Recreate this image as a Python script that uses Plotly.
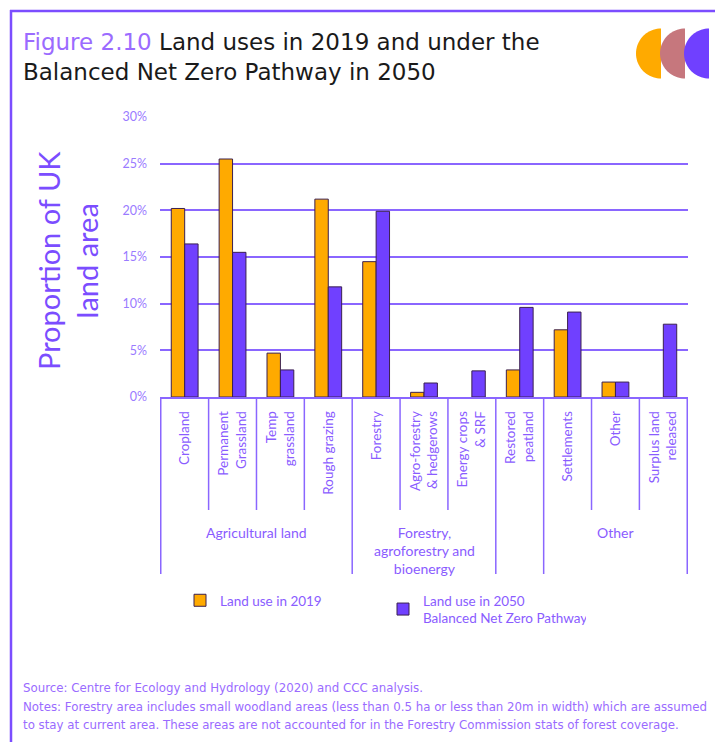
import plotly.graph_objects as go

categories = ["Cropland", "Permanent<br>Grassland", "Temp<br>grassland", "Rough grazing",
              "Forestry", "Agro-forestry<br>& hedgerows", "Energy crops<br>& SRF",
              "Restored<br>peatland", "Settlements", "Other", "Surplus land<br>released"]
land_2019 = [20.2, 25.5, 4.7, 21.2, 14.5, 0.5, 0.0, 2.9, 7.2, 1.6, 0.0]
land_2050 = [16.4, 15.5, 2.9, 11.8, 19.9, 1.5, 2.8, 9.6, 9.1, 1.6, 7.8]
groups = [("Agricultural land", 0, 3), ("Forestry,<br>agroforestry and<br>bioenergy", 4, 6),
          ("", 7, 7), ("Other", 8, 10)]
yticks = [0, 5, 10, 15, 20, 25, 30]

PURPLE = "#7040FF"
ORANGE = "#FFAA00"
TXT = "#8A5CFF"
FONT = "Lato"

def outline_widths(vals):
    return [0 if v == 0 else 1 for v in vals]

fig = go.Figure()
fig.add_trace(go.Bar(x=categories, y=land_2019, name="Land use in 2019",
                     marker=dict(color=ORANGE, line=dict(color="#3b2050", width=outline_widths(land_2019)))))
fig.add_trace(go.Bar(x=categories, y=land_2050, name="Land use in 2050<br>Balanced Net Zero Pathway",
                     marker=dict(color=PURPLE, line=dict(color="#3b2050", width=outline_widths(land_2050)))))

W, H = 715, 742
L, R, T, B = 160, 27, 117, 345
pw, ph = W - L - R, H - T - B

def px_x(p):
    return (p - L) / pw

def px_y(p):
    return (H - B - p) / ph

fig.update_layout(
    width=W, height=H,
    margin=dict(l=L, r=R, t=T, b=B),
    paper_bgcolor="white", plot_bgcolor="white",
    font=dict(family=FONT, color=TXT),
    bargap=0.44, bargroupgap=0,
    showlegend=True,
    legend=dict(orientation="h", x=px_x(180), y=px_y(585), xanchor="left", yanchor="top",
                font=dict(size=13.5, color=TXT), entrywidth=158, entrywidthmode="pixels",
                traceorder="normal", itemclick=False, bgcolor="rgba(0,0,0,0)"),
)

fig.update_yaxes(range=[0, 30], tickvals=yticks, ticktext=[f"{v}%" for v in yticks],
                 showgrid=True, gridcolor="#8a66ff", gridwidth=1.5, zeroline=False,
                 showline=False, tickfont=dict(size=12.5, color="#9A7BFF"),
                 ticklabelstandoff=12, fixedrange=True)
fig.update_xaxes(tickangle=-90, tickfont=dict(size=13.5, color=TXT), showline=True,
                 linecolor="#8a66ff", linewidth=1.5, ticklabelstandoff=7, fixedrange=True)

shapes = []
long_idx = set()
for name, a, b in groups:
    long_idx.add(a - 0.5)
    long_idx.add(b + 0.5)
for i in range(len(categories) + 1):
    xpos = i - 0.5
    yend = 574 if xpos in long_idx else 510
    shapes.append(dict(type="line", xref="x", yref="paper", x0=xpos, x1=xpos,
                       y0=0, y1=px_y(yend), line=dict(color="#8a66ff", width=1.5)))
# frame
shapes.append(dict(type="line", xref="paper", yref="paper", x0=px_x(10), x1=px_x(W + 5),
                   y0=px_y(11), y1=px_y(11), line=dict(color="#7B4DFF", width=2.5)))
shapes.append(dict(type="line", xref="paper", yref="paper", x0=px_x(11), x1=px_x(11),
                   y0=px_y(10), y1=px_y(H + 5), line=dict(color="#7B4DFF", width=2.5)))

def half_disc(xflat, yc, r, color):
    import math
    pts = []
    n = 40
    for k in range(n + 1):
        ang = math.pi / 2 + math.pi * k / n
        pts.append((xflat + r * math.cos(ang), yc - r * math.sin(ang)))
    path = "M " + " L ".join(f"{px_x(x):.5f},{px_y(y):.5f}" for x, y in pts) + " Z"
    return dict(type="path", xref="paper", yref="paper", path=path,
                fillcolor=color, line=dict(width=0))

shapes.append(half_disc(661, 53.5, 25, "#FFAA00"))
shapes.append(half_disc(685, 53.5, 25, "#C6777D"))
shapes.append(half_disc(709, 53.5, 25, "#7040FF"))
fig.update_layout(shapes=shapes)

ann = []
ann.append(dict(x=px_x(21), y=px_y(57), xref="paper", yref="paper", xanchor="left", yanchor="middle",
                align="left",
                text="<span style='color:#9B6BFF'>Figure 2.10</span> Land uses in 2019 and under the<br>Balanced Net Zero Pathway in 2050",
                showarrow=False, font=dict(family="DejaVu Sans", size=23, color="#1a1a1a")))
for name, a, b in groups:
    if name:
        ann.append(dict(x=(a + b) / 2, xref="x", y=px_y(522), yref="paper",
                        text=name, showarrow=False, yanchor="top", xanchor="center",
                        font=dict(size=14, color=TXT)))
ann.append(dict(x=px_x(67), y=px_y(261), xref="paper", yref="paper", textangle=-90,
                xanchor="center", yanchor="middle",
                text="Proportion of UK<br>land area", showarrow=False,
                font=dict(size=29, color="#7B4DFF")))
notes = ["Source: Centre for Ecology and Hydrology (2020) and CCC analysis.",
         "Notes: Forestry area includes small woodland areas (less than 0.5 ha or less than 20m in width) which are assumed",
         "to stay at current area. These areas are not accounted for in the Forestry Commission stats of forest coverage."]
for k, t in enumerate(notes):
    ann.append(dict(x=px_x(21), y=px_y(688 + 18.5 * k), xref="paper", yref="paper",
                    xanchor="left", yanchor="middle", text=t, showarrow=False,
                    font=dict(family="DejaVu Sans", size=11.8, color="#9A6BFF")))
fig.update_layout(annotations=ann)

fig.write_html("out.html")
